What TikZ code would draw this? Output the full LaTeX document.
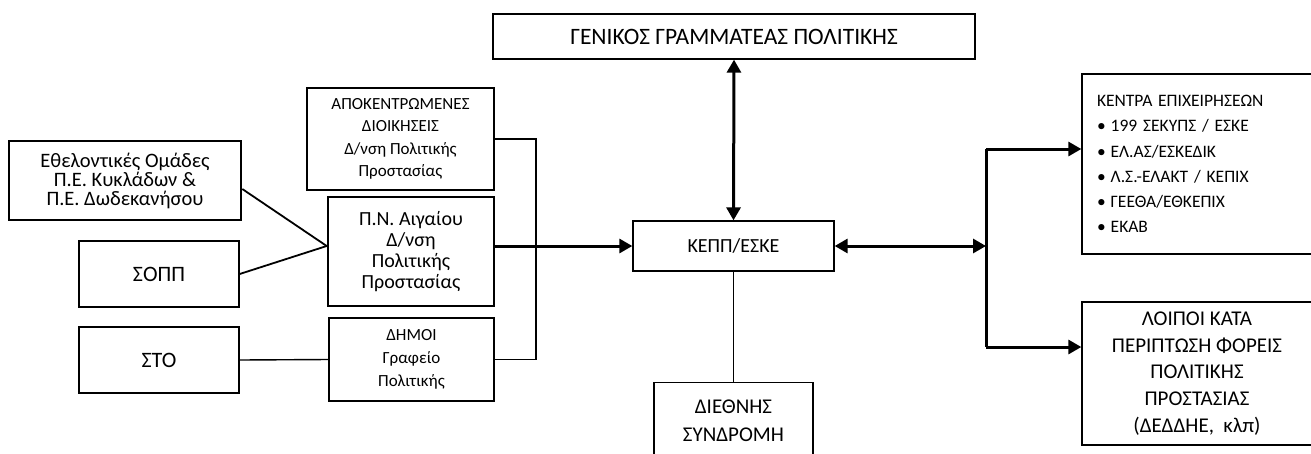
\documentclass[tikz,border=0pt]{standalone}
\usepackage{fontspec}
\setmainfont{Carlito}
\usetikzlibrary{arrows.meta}

\tikzset{
	box/.style={draw, line width=1.3pt, align=center, inner sep=0pt},
	boldbox/.style={box, line width=2.6pt},
	link/.style={line width=1.8pt},
	thinlink/.style={line width=1.4pt},
	flow/.style={line width=3pt, -{Triangle[length=13pt,width=14pt]}},
	twoway/.style={line width=3pt, {Triangle[length=13pt,width=14pt]}-{Triangle[length=13pt,width=14pt]}}
}

\begin{document}
\begin{tikzpicture}[x=1pt, y=-1pt]
				\useasboundingbox (0,0) rectangle (1311,453);

				\node[box, minimum width=482, minimum height=45, font=\fontsize{23.5}{27}\selectfont] (gen) at (734,36.5) {ΓΕΝΙΚΟΣ ΓΡΑΜΜΑΤΕΑΣ ΠΟΛΙΤΙΚΗΣ};
				\node[box, minimum width=201, minimum height=50, font=\fontsize{20}{24}\selectfont] (kepp) at (733.5,246) {ΚΕΠΠ/ΕΣΚΕ};
				\node[box, minimum width=159, minimum height=76, anchor=north, font=\fontsize{21}{28}\selectfont] (diethnis) at (733.5,382) {ΔΙΕΘΝΗΣ\\ΣΥΝΔΡΟΜΗ};

				\node[box, minimum width=187, minimum height=102, font=\fontsize{17}{22.5}\selectfont] (apok) at (400.5,139) {ΑΠΟΚΕΝΤΡΩΜΕΝΕΣ\\ΔΙΟΙΚΗΣΕΙΣ\\Δ/νση Πολιτικής\\Προστασίας};
				\node[boldbox, minimum width=166, minimum height=109, font=\fontsize{20}{21}\selectfont] (pn) at (411,251.5) {Π.Ν. Αιγαίου\\Δ/νση\\Πολιτικής\\Προστασίας};
				\node[box, minimum width=165, minimum height=83, font=\fontsize{17}{23}\selectfont] (dimoi) at (411.5,359.5) {ΔΗΜΟΙ\\Γραφείο\\Πολιτικής};

				\node[boldbox, minimum width=232, minimum height=79, font=\fontsize{20.5}{19}\selectfont] (ethel) at (125,180.5) {Εθελοντικές Ομάδες\\Π.Ε. Κυκλάδων \&\\Π.Ε. Δωδεκανήσου};
				\node[box, minimum width=160, minimum height=66, font=\fontsize{22}{26}\selectfont] (sopp) at (159,274) {ΣΟΠΠ};
				\node[box, minimum width=160, minimum height=66, font=\fontsize{22}{26}\selectfont] (sto) at (159,360) {ΣΤΟ};

				\node[box, minimum width=230, minimum height=180, align=left, text width=200, inner xsep=15pt, font=\fontsize{17.5}{25.2}\selectfont] (kentra) at (1197,164) {ΚΕΝΤΡΑ ΕΠΙΧΕΙΡΗΣΕΩΝ\\\textbullet\hspace{5pt}199 ΣΕΚΥΠΣ / ΕΣΚΕ\\\textbullet\hspace{5pt}ΕΛ.ΑΣ/ΕΣΚΕΔΙΚ\\\textbullet\hspace{5pt}Λ.Σ.-ΕΛΑΚΤ / ΚΕΠΙΧ\\\textbullet\hspace{5pt}ΓΕΕΘΑ/ΕΘΚΕΠΙΧ\\\textbullet\hspace{5pt}ΕΚΑΒ\\[-12pt]};
				\node[box, minimum width=230, minimum height=143, font=\fontsize{21}{26.7}\selectfont] (loipoi) at (1197,373.5) {ΛΟΙΠΟΙ ΚΑΤΑ\\ΠΕΡΙΠΤΩΣΗ ΦΟΡΕΙΣ\\ΠΟΛΙΤΙΚΗΣ\\ΠΡΟΣΤΑΣΙΑΣ\\(ΔΕΔΔΗΕ,\ \ κλπ)};

				\coordinate (join) at (pn.west |- kepp.west);
				\coordinate (bus) at (536,246);
				\coordinate (split) at (986,246);
				\coordinate (kin) at ([yshift=15pt]kentra.west);
				\coordinate (lin) at ([yshift=26.5pt]loipoi.west);

				\draw[link] ([yshift=-8.5pt]ethel.east) -- (join);
				\draw[link] (sopp.east) -- (join);
				\draw[thinlink] (sto.east) -- (dimoi.west);
				\draw[link] (apok.east) -| (bus) |- (dimoi.east);
				\draw[flow] (pn.east |- kepp.west) -- (kepp.west);

				\draw[twoway] (gen.south) -- (kepp.north);
				\draw[thinlink] (kepp.south) -- (diethnis.north);
				\draw[twoway] (kepp.east) -- (split);

				\draw[line width=3pt] (kin -| split) -- (lin -| split);
				\draw[flow] (kin -| split) -- (kin);
				\draw[flow] (lin -| split) -- (lin);

			\end{tikzpicture}
\end{document}
